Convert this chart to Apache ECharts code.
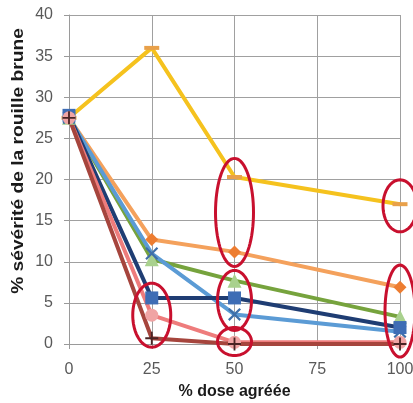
<!DOCTYPE html>
<html>
<head>
<meta charset="utf-8">
<script src="https://cdn.jsdelivr.net/npm/echarts@6/dist/echarts.min.js"></script>
<style>html,body{margin:0;padding:0;background:#fff}#c{width:413px;height:403px}</style>
</head>
<body>
<div id="c"></div>
<script>
// ---- data ----
const doses = [0, 25, 50, 100];
const xTicks = [0, 25, 50, 75, 100];
const yTicks = [0, 5, 10, 15, 20, 25, 30, 35, 40];
const yellow    = [27.5, 36.0, 20.3, 17.0];
const orange    = [27.5, 12.7, 11.2, 6.9];
const green     = [27.5, 10.3, 7.7, 3.3];
const lightBlue = [27.5, 11.0, 3.6, 1.5];
const darkBlue  = [27.8, 5.6, 5.6, 2.0];
const pink      = [27.5, 3.5, 0.2, 0.2];
const darkRed   = [27.5, 0.7, 0.0, 0.0];
// annotation ellipses: centre in data units
const ellipseCentres = [[25, 3.5], [50, 16], [50, 5.3], [50, 0.3], [100, 16.8], [100, 4]];
const ellipseRadii = [[19, 32], [19, 54], [17, 30], [17, 14], [17, 26], [15, 46]];
const xTitle = '% dose agréée';
const yTitle = '% sévérité de la rouille brune';

const pts = arr => doses.map((d, i) => [d, arr[i]]);
const X_PATH = 'path://M0,1.2 L1.2,0 L5,3.8 L8.8,0 L10,1.2 L6.2,5 L10,8.8 L8.8,10 L5,6.2 L1.2,10 L0,8.8 L3.8,5 Z';
const PLUS_PATH = 'path://M4.3,0 H5.7 V4.3 H10 V5.7 H5.7 V10 H4.3 V5.7 H0 V4.3 H4.3 Z';

function ser(data, lineColor, symbol, symColor, size) {
  return {
    type: 'line', data: pts(data), symbol: symbol, symbolSize: size,
    lineStyle: { color: lineColor, width: 4 },
    itemStyle: { color: symColor, borderWidth: 0 },
    showAllSymbol: true, animation: false, z: 3
  };
}

const chart = echarts.init(document.getElementById('c'), null, { renderer: 'canvas' });
const font = 'Liberation Sans, Arial, sans-serif';
chart.setOption({
  animation: false,
  grid: { left: 69, right: 13, top: 15, bottom: 59, containLabel: false, outerBoundsMode: 'none' },
  xAxis: {
    type: 'value', min: 0, max: 100, interval: 25,
    axisLine: { lineStyle: { color: '#9a9a9a', width: 1 } },
    axisTick: { show: true, length: 5, lineStyle: { color: '#9a9a9a' } },
    splitLine: { show: true, lineStyle: { color: '#a0a0a0', width: 1 } },
    axisLabel: { color: '#595959', fontSize: 16, fontFamily: font, margin: 18,
      formatter: v => xTicks.includes(v) ? String(v) : '' },
    name: xTitle, nameLocation: 'middle', nameGap: 40,
    nameTextStyle: { color: '#1a1a1a', fontSize: 16, fontWeight: 'bold', fontFamily: font }
  },
  yAxis: {
    type: 'value', min: 0, max: 40, interval: 5,
    axisLine: { show: true, lineStyle: { color: '#9a9a9a', width: 1 } },
    axisTick: { show: true, length: 5, lineStyle: { color: '#9a9a9a' } },
    splitLine: { show: true, lineStyle: { color: '#a0a0a0', width: 1 } },
    axisLabel: { color: '#595959', fontSize: 16, fontFamily: font, margin: 16,
      formatter: v => yTicks.includes(v) ? String(v) : '' }
  },
  series: [
    ser(yellow, '#F5C21E', 'rect', '#E8A04A', [15, 4]),
    ser(orange, '#F4A15C', 'diamond', '#ED7D31', 13),
    ser(green, '#76A33D', 'triangle', '#A9D18E', 14),
    ser(lightBlue, '#5B9BD5', X_PATH, '#3F6FA8', 13),
    ser(darkBlue, '#1F3D73', 'rect', '#3E6DB5', 13),
    ser(pink, '#EE7C7C', 'circle', '#F0A4A4', 13),
    ser(darkRed, '#A6453D', PLUS_PATH, '#4A2424', 13)
  ]
});

function ellipsePoints(cx, cy, rx, ry) {
  const p = [];
  for (let i = 0; i < 72; i++) {
    const a = i / 72 * Math.PI * 2;
    p.push([cx + rx * Math.cos(a), cy + ry * Math.sin(a)]);
  }
  return p;
}
const graphics = ellipseCentres.map((c, i) => {
  const px = chart.convertToPixel({ gridIndex: 0 }, c);
  return {
    type: 'polygon', z: 10, silent: true,
    shape: { points: ellipsePoints(px[0], px[1], ellipseRadii[i][0], ellipseRadii[i][1]) },
    style: { fill: 'none', stroke: '#C8102E', lineWidth: 3 }
  };
});
graphics.push({
  type: 'text', x: 19, y: 161, rotation: Math.PI / 2, scaleX: 1.2, silent: true,
  style: { text: yTitle, fill: '#1a1a1a', font: 'bold 16px Liberation Sans, Arial, sans-serif',
    align: 'center', verticalAlign: 'middle' }
});
chart.setOption({ graphic: graphics });
</script>
</body>
</html>
